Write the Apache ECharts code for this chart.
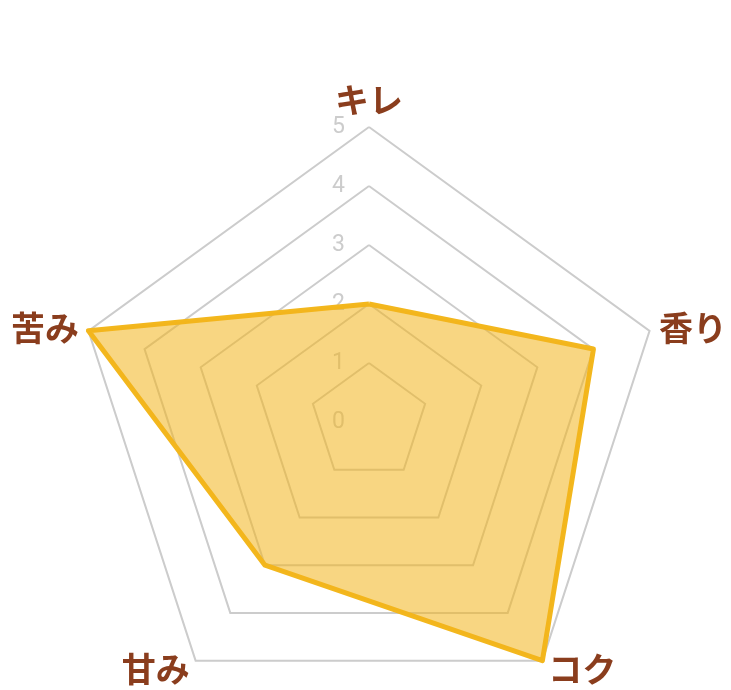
<!DOCTYPE html>
<html><head><meta charset="utf-8">
<script src="https://cdn.jsdelivr.net/npm/echarts@6/dist/echarts.min.js"></script>
<style>html,body{margin:0;padding:0;background:#fff}#c{width:731px;height:690px}</style>
</head><body><div id="c"></div>
<script>
// ECharts radar runs counter-clockwise from the top, so list in that order
const indicators = ['キレ', '苦み', '甘み', 'コク', '香り'];
const values = [2, 5, 3, 5, 4];
const maxValue = 5;
const tickInterval = 1;

const chart = echarts.init(document.getElementById('c'), null, {renderer: 'canvas'});
chart.setOption({
  animation: false,
  polar: {center: [369, 422], radius: 295},
  angleAxis: {startAngle: 90, show: false, min: 0, max: 360},
  radiusAxis: {
    min: 0, max: maxValue, interval: tickInterval,
    axisLine: {show: false},
    axisTick: {show: false},
    splitLine: {show: false},
    axisLabel: {color: '#cccccc', fontSize: 23, fontFamily: 'Roboto', margin: 24}
  },
  radar: {
    center: [369, 422],
    radius: 295,
    startAngle: 90,
    splitNumber: 5,
    shape: 'polygon',
    indicator: indicators.map(n => ({name: n, max: maxValue, min: 0})),
    axisName: {
      color: '#8a3d1d',
      fontSize: 34,
      fontWeight: 'bold',
      fontFamily: 'Noto Sans CJK JP'
    },
    nameGap: 10,
    splitLine: {lineStyle: {color: '#cccccc', width: 2}},
    splitArea: {show: false},
    axisLine: {show: false},
    axisTick: {show: false},
    axisLabel: {show: false}
  },
  series: [{
    type: 'radar',
    symbol: 'none',
    data: [{value: values}],
    lineStyle: {color: '#f3b71d', width: 5},
    areaStyle: {color: '#f2b51c', opacity: 0.55}
  }]
});
</script></body></html>
